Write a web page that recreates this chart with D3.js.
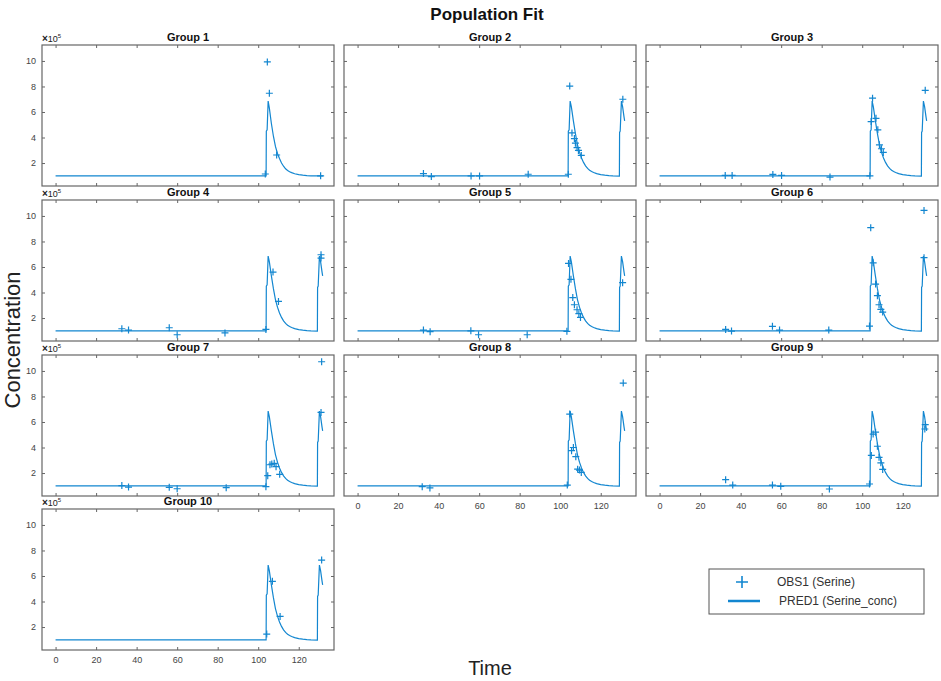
<!DOCTYPE html>
<html>
<head>
<meta charset="utf-8">
<script src="https://cdn.jsdelivr.net/npm/d3@7"></script>
<style>
  body { margin: 0; background: #fff; }
  svg { display: block; font-family: "Liberation Sans", Arial, sans-serif; }
  .tick text { fill: #444; font-size: 9px; }
  .tick line { stroke: #666; }
</style>
</head>
<body>
<svg id="chart" width="941" height="681"></svg>
<script>
// group names
const groups = ['Group 1','Group 2','Group 3','Group 4','Group 5','Group 6','Group 7','Group 8','Group 9','Group 10'];

// predicted curve (population fit), time and conc (x10^5)
const predTime = [0, 103.9, 104.0, 104.4, 104.9, 105.5, 106.5, 107.5, 108.5, 109.5, 110.5, 111.5, 112.5, 113.5, 114.5, 115.5, 116.5, 118, 120, 122, 124, 126, 129.2, 129.3, 129.6, 130.2, 130.8, 131.5, 131.8];
const predConc = [1.0, 1.0, 4.5, 4.6, 6.85, 6.4, 5.3, 4.3, 3.45, 2.85, 2.4, 2.05, 1.78, 1.58, 1.44, 1.34, 1.26, 1.17, 1.09, 1.05, 1.02, 1.0, 0.98, 4.4, 4.5, 6.85, 6.4, 5.6, 5.3];
// group 1 has no second dose
const predTimeG1 = [0, 103.9, 104.0, 104.4, 104.9, 105.5, 106.5, 107.5, 108.5, 109.5, 110.5, 111.5, 112.5, 113.5, 114.5, 115.5, 116.5, 118, 120, 122, 124, 126, 132];
const predConcG1 = [1.0, 1.0, 4.5, 4.6, 6.85, 6.3, 5.1, 4.1, 3.3, 2.75, 2.35, 2.0, 1.75, 1.55, 1.42, 1.32, 1.25, 1.16, 1.09, 1.05, 1.02, 1.0, 1.0];

// observations per group
const obsTime = [
  [103.5, 104.5, 105.5, 109.1, 130.8],
  [32.5, 36.4, 56, 60.2, 84.2, 104, 104.7, 105.8, 107, 107.5, 108.3, 109, 110.4, 130.9],
  [32.4, 35.8, 55.9, 60.2, 84.1, 103.8, 104.4, 105.1, 106.8, 107.7, 108.5, 109.5, 110.4, 131.1],
  [32.7, 36, 56.1, 60, 83.6, 103.8, 107.3, 110, 131, 131],
  [32.5, 35.8, 55.9, 59.7, 83.7, 103.3, 104.1, 105.3, 106.2, 107, 108.3, 109.2, 110, 130.8],
  [32.6, 35.5, 55.7, 59.2, 83.5, 103.6, 104.2, 105.4, 106.6, 107.5, 108.3, 109.2, 110.1, 130.5, 130.5],
  [32.7, 36, 56.1, 60, 84.2, 103.8, 104.7, 105.8, 106.7, 107.9, 108.8, 110.6, 131.3, 131],
  [31.9, 35.7, 103.5, 104.7, 105.6, 106.5, 107.7, 108.6, 109.5, 110.4, 131.1],
  [32.6, 36.1, 55.7, 59.8, 83.8, 103.6, 104.5, 105.4, 106.6, 107.5, 108.3, 109.2, 110.1, 131.1, 130.9],
  [104.2, 107, 110.8, 131.3]
];
const obsConc = [
  [1.14, 9.92, 7.47, 2.63, 1.0],
  [1.17, 0.94, 0.99, 0.99, 1.12, 1.12, 8.03, 4.36, 3.92, 3.56, 3.2, 2.99, 2.6, 7.0],
  [1.03, 1.03, 1.11, 1.03, 0.9, 1.0, 5.25, 7.08, 5.5, 4.6, 3.43, 3.12, 2.83, 7.7],
  [1.16, 1.06, 1.24, 0.69, 0.83, 1.11, 5.6, 3.3, 6.96, 6.7],
  [1.06, 0.93, 1.0, 0.69, 0.69, 0.96, 6.28, 5.03, 3.6, 3.04, 2.65, 2.34, 2.05, 4.77],
  [1.11, 0.98, 1.35, 1.06, 1.06, 1.37, 9.08, 6.33, 4.66, 3.75, 3.04, 2.68, 2.47, 10.43, 6.73],
  [1.02, 0.9, 0.88, 0.77, 0.85, 0.93, 1.79, 2.65, 2.7, 2.76, 2.5, 1.9, 10.72, 6.75],
  [0.93, 0.83, 1.06, 6.62, 3.75, 4.0, 3.28, 2.3, 2.23, 2.05, 9.05],
  [1.48, 1.06, 1.06, 0.96, 0.75, 1.14, 3.38, 5.05, 5.2, 4.1, 3.23, 2.8, 2.28, 5.79, 5.45],
  [1.45, 5.58, 2.83, 7.25]
];

const xTicks = [0, 20, 40, 60, 80, 100, 120];
const yTicks = [2, 4, 6, 8, 10];

const blue = '#1286d0';
const svg = d3.select('#chart');

const colX = [42, 344, 646];
const rowY = [45, 200, 355, 509];
const pw = 292, ph = 141;

const x = d3.scaleLinear().domain([-6.7, 137.4]).range([0, pw]);
const y = d3.scaleLinear().domain([0.2, 11.25]).range([ph, 0]);

// title
svg.append('text')
  .attr('x', 487).attr('y', 20)
  .attr('text-anchor', 'middle')
  .attr('font-size', 17).attr('font-weight', 'bold').attr('fill', '#111')
  .text('Population Fit');

groups.forEach((name, i) => {
  const col = i % 3, row = Math.floor(i / 3);
  const g = svg.append('g')
    .attr('transform', `translate(${colX[col]}, ${rowY[row]})`);

  const showX = (i >= 9) || (row == 2 && col > 0);
  const showY = col == 0;

  g.append('rect')
    .attr('width', pw).attr('height', ph)
    .attr('fill', '#fff');

  // ticks on all four sides, pointing inward
  g.append('g').attr('transform', `translate(0, ${ph})`)
    .call(d3.axisBottom(x).tickValues(xTicks).tickSize(-3).tickPadding(7)
      .tickFormat(showX ? d3.format('d') : ''));
  g.append('g')
    .call(d3.axisTop(x).tickValues(xTicks).tickSize(-3).tickFormat(''));
  g.append('g')
    .call(d3.axisLeft(y).tickValues(yTicks).tickSize(-3).tickPadding(6)
      .tickFormat(showY ? d3.format('d') : ''));
  g.append('g').attr('transform', `translate(${pw}, 0)`)
    .call(d3.axisRight(y).tickValues(yTicks).tickSize(-3).tickFormat(''));
  g.selectAll('.domain').remove();

  g.append('rect')
    .attr('width', pw).attr('height', ph)
    .attr('fill', 'none').attr('stroke', '#666').attr('stroke-width', 1.2);

  // predicted line
  const tt = i == 0 ? predTimeG1 : predTime;
  const cc = i == 0 ? predConcG1 : predConc;
  const line = d3.line().x(d => x(d[0])).y(d => y(d[1]));
  g.append('path')
    .datum(tt.map((t, k) => [t, cc[k]]))
    .attr('d', line)
    .attr('fill', 'none').attr('stroke', blue).attr('stroke-width', 1.2);

  // observations as +
  const obs = obsTime[i].map((t, k) => [t, obsConc[i][k]]);
  g.selectAll('.obs')
    .data(obs)
    .enter()
    .append('path')
    .attr('class', 'obs')
    .attr('d', d => `M${x(d[0]) - 3.5},${y(d[1])}h7M${x(d[0])},${y(d[1]) - 3.5}v7`)
    .attr('stroke', blue).attr('stroke-width', 1.2);

  // subplot title
  g.append('text')
    .attr('x', pw / 2).attr('y', -4)
    .attr('text-anchor', 'middle')
    .attr('font-size', 11).attr('font-weight', 'bold').attr('fill', '#111')
    .text(name);

  if (showY) {
    const ex = g.append('text')
      .attr('x', 0).attr('y', -3)
      .attr('font-size', 9).attr('fill', '#222');
    ex.append('tspan').attr('font-weight', 'bold').attr('font-size', 10).text('×');
    ex.append('tspan').text('10');
    ex.append('tspan').attr('dy', -4).attr('font-size', 6).text('5');
  }
});

// axis labels
svg.append('text')
  .attr('x', 490).attr('y', 675)
  .attr('text-anchor', 'middle')
  .attr('font-size', 20).attr('fill', '#222')
  .text('Time');

svg.append('text')
  .attr('transform', 'translate(20, 340) rotate(-90)')
  .attr('text-anchor', 'middle')
  .attr('font-size', 22).attr('fill', '#222')
  .text('Concentration');

// legend
const lg = svg.append('g').attr('transform', 'translate(709, 569)');
lg.append('rect')
  .attr('width', 215).attr('height', 45)
  .attr('fill', '#fff').attr('stroke', '#555').attr('stroke-width', 1);
lg.append('path')
  .attr('d', 'M27,13h12M33,7v12')
  .attr('stroke', blue).attr('stroke-width', 1.6);
lg.append('line')
  .attr('x1', 19).attr('x2', 51).attr('y1', 32).attr('y2', 32)
  .attr('stroke', blue).attr('stroke-width', 2.5);
lg.append('text')
  .attr('x', 68).attr('y', 17)
  .attr('font-size', 12).attr('fill', '#333')
  .text('OBS1 (Serine)');
lg.append('text')
  .attr('x', 70).attr('y', 36)
  .attr('font-size', 12).attr('fill', '#333')
  .text('PRED1 (Serine_conc)');
</script>
</body>
</html>
